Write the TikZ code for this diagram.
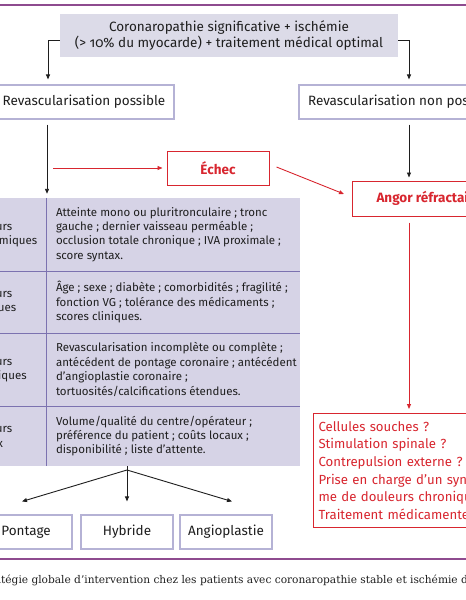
\documentclass[tikz,border=0pt]{standalone}
\usepackage{fontspec}
\setmainfont{Fira Sans}[Numbers=OldStyle]
\newfontfamily\capfont{DejaVu Serif}
\usetikzlibrary{arrows.meta,calc}
\definecolor{ruleline}{HTML}{8E4B8F}
\definecolor{topfill}{HTML}{DCDBE8}
\definecolor{tabfill}{HTML}{D6D3E6}
\definecolor{tabline}{HTML}{7C72B0}
\definecolor{boxline}{HTML}{B5B2D5}
\definecolor{alertred}{HTML}{D8262F}
\definecolor{ink}{HTML}{1E1E1E}
\tikzset{
  arr/.style={-{Triangle[length=5pt,width=4pt]}, line width=0.9pt, draw=ink},
  redarr/.style={-{Triangle[length=5pt,width=4pt]}, line width=0.9pt, draw=alertred},
  bigtext/.style={font=\fontsize{13.5}{16.7}\selectfont, text=ink},
  topbox/.style={bigtext, fill=topfill, inner sep=0pt, minimum width=338pt, minimum height=43pt, align=center},
  plainbox/.style={bigtext, draw=boxline, line width=1.1pt, fill=white, inner sep=0pt, minimum height=34pt},
  redbox/.style={draw=alertred, line width=1pt, fill=white, text=alertred, inner sep=0pt, minimum height=34pt, font=\fontsize{13.5}{16.7}\selectfont\bfseries},
  optbox/.style={draw=alertred, line width=1pt, fill=white, text=alertred, inner xsep=5pt, inner ysep=0pt, minimum height=114pt, text width=200pt, align=left, font=\fontsize{13.2}{17.6}\selectfont},
  cell/.style={fill=tabfill, inner sep=0pt},
  celltext/.style={font=\fontsize{11.5}{14.4}\selectfont, text=ink, inner sep=0pt, align=left},
  tline/.style={draw=tabline, line width=1.3pt},
  rule/.style={draw=ruleline, line width=1.2pt}
}
\begin{document}
\begin{tikzpicture}[x=1pt,y=-1pt]
\useasboundingbox (0,0) rectangle (466,600);
\clip (0,0) rectangle (466,600);
\fill[white] (0,0) rectangle (466,600);

% rules
\coordinate (r1a) at (0,5); \coordinate (r1b) at (466,5);
\coordinate (r2a) at (0,559); \coordinate (r2b) at (466,559);
\draw[rule] (r1a) -- (r1b);
\draw[rule] (r2a) -- (r2b);

% top box
\node[topbox] (top) at (229,35.5) {Coronaropathie significative + ischémie\\(> 10\% du myocarde) + traitement médical optimal};

% second level boxes
\node[plainbox, minimum width=180pt] (rp) at (84,102) {Revascularisation possible};
\node[plainbox, minimum width=208pt] (rnp) at (403,102) {Revascularisation non possible};

\draw[arr] ([yshift=-4.5pt]top.west) -| ([xshift=-36pt,yshift=5pt]rp.north);
\draw[arr] ([yshift=-4.5pt]top.east) -| ([xshift=6pt,yshift=5pt]rnp.north);

% echec and angor
\node[redbox, minimum width=102pt] (echec) at (218,168) {Échec};
\node[redbox, anchor=west, minimum height=35pt, inner xsep=24pt] (angor) at (352,198.5) {Angor réfractaire};

% table
\node[cell, minimum width=107pt, minimum height=73pt] (l1) at (-6.5,234.5) {};
\node[cell, minimum width=253pt, minimum height=73pt] (c1) at (173.5,234.5) {};
\node[cell, minimum width=107pt, minimum height=62pt] (l2) at (-6.5,302) {};
\node[cell, minimum width=253pt, minimum height=62pt] (c2) at (173.5,302) {};
\node[cell, minimum width=107pt, minimum height=73pt] (l3) at (-6.5,369.5) {};
\node[cell, minimum width=253pt, minimum height=73pt] (c3) at (173.5,369.5) {};
\node[cell, minimum width=107pt, minimum height=60pt] (l4) at (-6.5,436) {};
\node[cell, minimum width=253pt, minimum height=60pt] (c4) at (173.5,436) {};

\draw[tline] (l1.south west) -- (c1.south east);
\draw[tline] (l2.south west) -- (c2.south east);
\draw[tline] (l3.south west) -- (c3.south east);
\draw[tline] (c1.north west) -- (c4.south west);

\node[celltext, anchor=west] (f1) at ([xshift=29pt]l1.west) {Facteurs\\anatomiques};
\node[celltext, anchor=west] (f2) at ([xshift=29pt]l2.west) {Facteurs\\cliniques};
\node[celltext, anchor=west] (f3) at ([xshift=29pt]l3.west) {Facteurs\\techniques};
\node[celltext, anchor=west] (f4) at ([xshift=29pt]l4.west) {Facteurs\\locaux};

\node[celltext, anchor=west] (t1) at ([xshift=9pt]c1.west) {Atteinte mono ou pluritronculaire ; tronc\\gauche ; dernier vaisseau perméable ;\\occlusion totale chronique ; IVA proximale ;\\score syntax.};
\node[celltext, anchor=west] (t2) at ([xshift=9pt]c2.west) {Âge ; sexe ; diabète ; comorbidités ; fragilité ;\\fonction VG ; tolérance des médicaments ;\\scores cliniques.};
\node[celltext, anchor=west] (t3) at ([xshift=9pt]c3.west) {Revascularisation incomplète ou complète ;\\antécédent de pontage coronaire ; antécédent\\d’angioplastie coronaire ;\\tortuosités/calcifications étendues.};
\node[celltext, anchor=west] (t4) at ([xshift=9pt]c4.west) {Volume/qualité du centre/opérateur ;\\préférence du patient ; coûts locaux ;\\disponibilité ; liste d’attente.};

% arrows left column
\draw[arr] ([xshift=-37pt,yshift=-5pt]rp.south) -- ($(rp.south |- c1.north)+(-37,-4)$);
\coordinate (j) at ($(echec.west -| rp.south)+(-37,0)$);
\draw[redarr] ($(j)+(6,0)$) -- ([xshift=-4pt]echec.west);
\draw[redarr] ([xshift=7pt,yshift=1pt]echec.east) -- ([xshift=-8pt,yshift=4.5pt]angor.west);

% right column
\draw[arr] ([xshift=6pt,yshift=-5pt]rnp.south) -- ($(rnp.south |- angor.north)+(6,-3)$);
\node[optbox, anchor=north west] (opt) at (313,413) {Cellules souches ?\\Stimulation spinale ?\\Contrepulsion externe ?\\Prise en charge d’un syndro-\\me de douleurs chroniques ?\\Traitement médicamenteux ?};
\coordinate (rdown) at ($(opt.north west)+(96,0)$);
\draw[redarr] ($(rdown |- angor.south)+(0,6)$) -- ($(rdown)+(0,-4)$);

% bottom tree
\node[plainbox, minimum width=92pt] (pont) at (26,532) {Pontage};
\node[plainbox, minimum width=92pt] (hyb) at (127,532) {Hybride};
\node[plainbox, minimum width=92pt] (angio) at (226,532) {Angioplastie};
\coordinate (apex) at (127,470);
\draw[arr] (apex) -- ([xshift=-4pt,yshift=13pt]pont.north);
\draw[arr] (apex) -- ([yshift=13pt]hyb.north);
\draw[arr] (apex) -- ([xshift=6pt,yshift=13pt]angio.north);
\draw[line width=0.9pt, draw=ink] (apex) -- ([xshift=-46.5pt]c4.south);

% caption
\node[anchor=west, inner sep=0pt, font=\capfont\fontsize{10.6}{13}\selectfont, text=ink] (cap) at (1,580) {\llap{Stra}tégie globale d’intervention chez les patients avec coronaropathie stable et ischémie documentée};
\end{tikzpicture}
\end{document}
